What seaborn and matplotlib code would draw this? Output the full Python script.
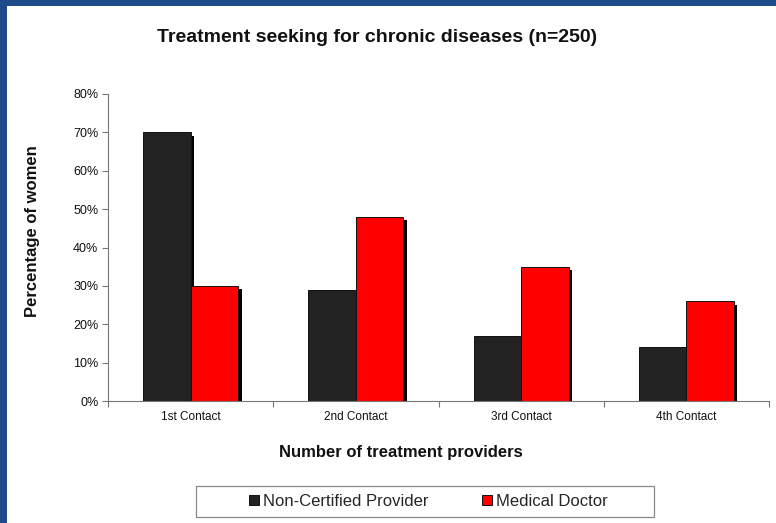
import numpy as np
import pandas as pd
import matplotlib
matplotlib.use("Agg")
import matplotlib.pyplot as plt
import matplotlib.patheffects as pe
from matplotlib.patches import Rectangle
from matplotlib.ticker import PercentFormatter, FixedLocator
import seaborn as sns

categories = ["1st Contact", "2nd Contact", "3rd Contact", "4th Contact"]
series_names = ["Non-Certified Provider", "Medical Doctor"]
non_certified = [0.70, 0.29, 0.17, 0.14]
medical_doctor = [0.30, 0.48, 0.35, 0.26]
colors = ["#222222", "#FF0000"]

df = pd.DataFrame({
    "contact": categories * 2,
    "value": non_certified + medical_doctor,
    "provider": [series_names[0]] * 4 + [series_names[1]] * 4,
})

sns.set_style("white")
plt.rcParams["font.family"] = ["Liberation Sans", "DejaVu Sans"]

W, H = 776, 523
fig = plt.figure(figsize=(W / 100, H / 100), dpi=100)
fig.patch.set_facecolor("#1E4B8A")
fig.patches.append(Rectangle((7 / W, 0), 1, 1 - 6 / H, transform=fig.transFigure,
                             facecolor="white", edgecolor="none", zorder=-10))

ax = fig.add_axes([108 / W, 1 - 401 / H, (769 - 108) / W, (401 - 94) / H])
ax.set_facecolor("white")
sns.barplot(data=df, x="contact", y="value", hue="provider", order=categories,
            hue_order=series_names, palette=colors, width=0.575, saturation=1,
            edgecolor="#111111", linewidth=0.7, ax=ax, legend=True)

for p in ax.patches:
    p.set_path_effects([pe.SimplePatchShadow(offset=(2.6, -2.6), shadow_rgbFace="black", alpha=1.0),
                        pe.Normal()])

ax.set_ylim(0, 0.8)
ax.set_xlim(-0.5, 3.5)
ax.yaxis.set_major_locator(FixedLocator(np.arange(0, 0.81, 0.1)))
ax.yaxis.set_major_formatter(PercentFormatter(1.0, decimals=0))
ax.xaxis.set_minor_locator(FixedLocator([-0.5, 0.5, 1.5, 2.5, 3.5]))
ax.tick_params(axis="x", which="major", length=0, pad=7, labelsize=8.5, colors="#111111")
ax.tick_params(axis="x", which="minor", length=4, width=0.8, color="#777777", direction="out", bottom=True)
ax.tick_params(axis="y", which="major", length=4, width=0.8, color="#777777", direction="out",
               left=True, pad=3, labelsize=9, labelcolor="#111111")
for s in ["top", "right"]:
    ax.spines[s].set_visible(False)
for s in ["left", "bottom"]:
    ax.spines[s].set_color("#777777")
    ax.spines[s].set_linewidth(0.8)
ax.set_xlabel("")
ax.set_ylabel("")

fig.text(377 / W, 1 - 37 / H, "Treatment seeking for chronic diseases (n=250)",
         ha="center", va="center", fontsize=14, fontweight="bold", color="#111111")
fig.text(401 / W, 1 - 452 / H, "Number of treatment providers",
         ha="center", va="center", fontsize=12, fontweight="bold", color="#111111")
fig.text(33 / W, 1 - 231 / H, "Percentage of women", rotation=90,
         ha="center", va="center", fontsize=12, fontweight="bold", color="#111111")

# legend frame box
fig.patches.append(Rectangle((196 / W, 1 - 517 / H), (654 - 196) / W, 31 / H,
                             transform=fig.transFigure, facecolor="white",
                             edgecolor="#888888", linewidth=0.9, zorder=1))

handles, labels = ax.get_legend_handles_labels()
ax.legend_.remove()
leg = fig.legend(handles, labels, loc="center", bbox_to_anchor=(428 / W, 1 - 501.5 / H),
                 ncol=2, fontsize=12, frameon=False,
                 handlelength=0.6, handleheight=0.6, handletextpad=0.25,
                 columnspacing=3.2, borderpad=0.3, borderaxespad=0)
leg.set_zorder(2)
for h in leg.legend_handles:
    h.set_path_effects([])

fig.savefig("out.png", dpi=100, facecolor=fig.get_facecolor())
